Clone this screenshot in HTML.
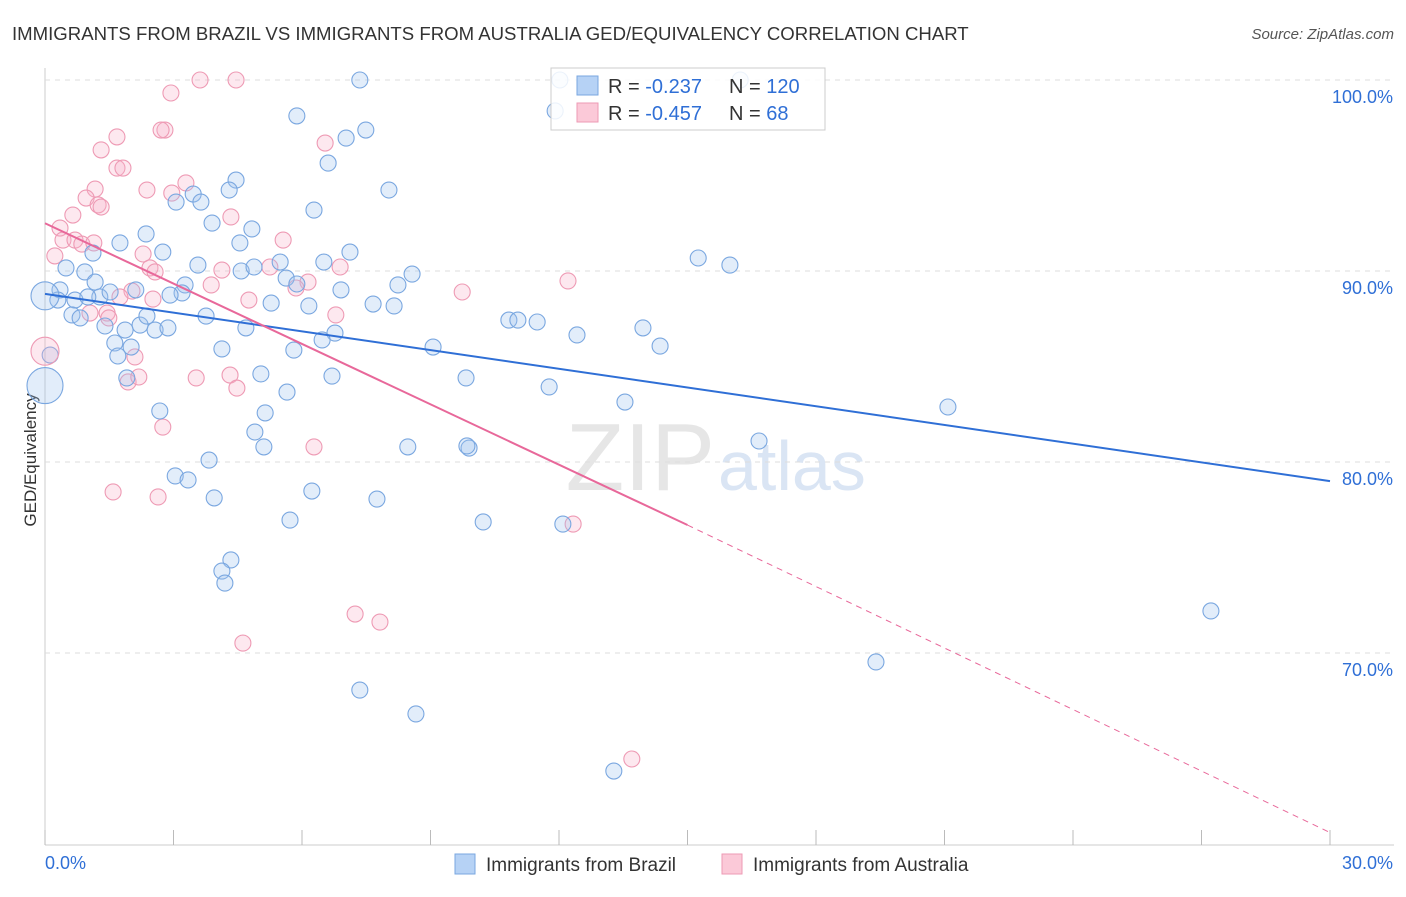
<!DOCTYPE html>
<html><head><meta charset="utf-8">
<style>
body{margin:0;background:#fff;font-family:"Liberation Sans",sans-serif;}
svg text{font-family:"Liberation Sans",sans-serif;}
</style></head>
<body>
<svg id="chart" width="1406" height="892" xmlns="http://www.w3.org/2000/svg">
<text x="12" y="40" font-size="18.6" fill="#333">IMMIGRANTS FROM BRAZIL VS IMMIGRANTS FROM AUSTRALIA GED/EQUIVALENCY CORRELATION CHART</text>
<text x="1394" y="39" font-size="15" fill="#555" font-style="italic" text-anchor="end">Source: ZipAtlas.com</text>
<text x="36" y="460" font-size="17" fill="#333" text-anchor="middle" transform="rotate(-90 36 460)">GED/Equivalency</text>
<text x="715" y="490" font-size="96" fill="#e6e6e6" text-anchor="end" font-family="Liberation Serif">ZIP</text>
<text x="718" y="490" font-size="70" fill="#dae5f4">atlas</text>
<g id="grid"></g><g id="pts"></g><g id="lines"></g>
<g>
<rect x="551" y="68" width="274" height="62" fill="#fff" fill-opacity="0.85" stroke="#ccc"/>
<rect x="577" y="76" width="21" height="19" fill="#b6d2f5" stroke="#7aa7e0"/>
<rect x="577" y="103" width="21" height="19" fill="#fbc9d8" stroke="#ee9ab4"/>
<text x="608" y="93" font-size="20" fill="#333">R = <tspan fill="#2f6fd6">-0.237</tspan></text>
<text x="729" y="93" font-size="20" fill="#333">N = <tspan fill="#2f6fd6">120</tspan></text>
<text x="608" y="120" font-size="20" fill="#333">R = <tspan fill="#2f6fd6">-0.457</tspan></text>
<text x="729" y="120" font-size="20" fill="#333">N = <tspan fill="#2f6fd6">  68</tspan></text>
</g>
<g>
<rect x="455" y="854" width="20" height="20" fill="#b6d2f5" stroke="#7aa7e0"/>
<text x="486" y="871" font-size="19" fill="#333">Immigrants from Brazil</text>
<rect x="722" y="854" width="20" height="20" fill="#fbc9d8" stroke="#ee9ab4"/>
<text x="753" y="871" font-size="19" fill="#333">Immigrants from Australia</text>
</g>
</svg>
<script>
const xTicks=[0,3,6,9,12,15,18,21,24,27,30];
const yTicks=[100,90,80,70];
const brazilPx=[[360,80],[297,116],[346,138],[366,130],[328,163],[389,190],[236,180],[229,190],[193,194],[176,202],[201,202],[314,210],[212,223],[252,229],[146,234],[120,243],[163,252],[240,243],[350,252],[93,253],[85,272],[66,268],[60,290],[58,300],[75,300],[95,282],[100,297],[88,297],[110,292],[136,290],[72,315],[80,318],[105,326],[125,330],[140,325],[155,330],[168,328],[147,316],[185,285],[182,293],[170,295],[198,265],[241,271],[254,267],[280,262],[286,278],[297,284],[271,303],[309,306],[324,262],[341,290],[373,304],[394,306],[398,285],[412,274],[335,333],[322,340],[294,350],[246,328],[206,316],[222,349],[261,374],[287,392],[332,376],[265,413],[255,432],[264,447],[209,460],[175,476],[188,480],[160,411],[127,378],[115,343],[118,356],[131,347],[433,347],[466,378],[509,320],[518,320],[537,322],[577,335],[643,328],[660,346],[549,387],[625,402],[698,258],[730,265],[948,407],[759,441],[408,447],[469,448],[467,446],[312,491],[377,499],[214,498],[290,520],[483,522],[563,524],[231,560],[222,571],[225,583],[1211,611],[876,662],[360,690],[416,714],[614,771],[50,355],[740,80],[555,111],[560,80]];
const ausPx=[[200,80],[236,80],[171,93],[117,137],[101,150],[165,130],[161,130],[325,143],[117,168],[123,168],[147,190],[95,189],[86,198],[73,215],[60,228],[63,240],[75,240],[82,244],[98,205],[101,207],[186,183],[172,193],[231,217],[283,240],[143,254],[55,256],[150,268],[155,272],[211,285],[270,267],[340,267],[308,282],[296,288],[249,300],[153,299],[132,291],[120,297],[90,313],[107,313],[109,318],[336,315],[462,292],[568,281],[135,357],[196,378],[230,375],[237,388],[128,382],[139,377],[163,427],[314,447],[113,492],[158,497],[573,524],[355,614],[380,622],[243,643],[632,759],[222,270],[94,243]];
const brazilX=brazilPx.map(p=>+((p[0]-45)/1285*30).toFixed(2));
const brazilY=brazilPx.map(p=>+(100-(p[1]-80)/19.1).toFixed(2));
const ausX=ausPx.map(p=>+((p[0]-45)/1285*30).toFixed(2));
const ausY=ausPx.map(p=>+(100-(p[1]-80)/19.1).toFixed(2));
const bigX=[0,0,0];const bigY=[88.7,85.8,84.0];const bigR=[14,14,18];const bigS=['b','a','b'];
const brazilTrend=[[0,88.8],[30,79.0]];
const ausTrend=[[0,92.5],[15,76.7],[30,60.6]];
const X=v=>45+v/30*1285, Y=v=>80+(100-v)*19.1;
const NS='http://www.w3.org/2000/svg';
function mk(t,a,parent){const e=document.createElementNS(NS,t);for(const k in a)e.setAttribute(k,a[k]);document.getElementById(parent).appendChild(e);return e;}
mk('line',{x1:45,y1:68,x2:45,y2:845,stroke:'#ccc'},'grid');
mk('line',{x1:45,y1:845,x2:1394,y2:845,stroke:'#ccc'},'grid');
xTicks.forEach(t=>{const l=mk('line',{x1:X(t),y1:845,x2:X(t),y2:830,stroke:'#bbb'},'grid');

});
yTicks.forEach(t=>{const l=mk('line',{x1:45,y1:Y(t),x2:1394,y2:Y(t),stroke:'#ddd','stroke-dasharray':'5,5'},'grid');


const tx=mk('text',{x:1393,y:Y(t)+23,'font-size':18,fill:'#2f6fd6','text-anchor':'end'},'grid');tx.textContent=t.toFixed(1)+'%';

});
let a=mk('text',{x:45,y:869,'font-size':18,fill:'#2f6fd6'},'grid');a.textContent='0.0%';


a=mk('text',{x:1393,y:869,'font-size':18,fill:'#2f6fd6','text-anchor':'end'},'grid');a.textContent='30.0%';


function dot(x,y,r,s){const c=mk('circle',{cx:X(x),cy:Y(y),r:r,fill:s=='b'?'rgba(160,196,240,0.3)':'rgba(248,180,202,0.3)',stroke:s=='b'?'#7aa7e0':'#ee9ab4','stroke-width':1.1},'pts');return c;}
ausX.forEach((x,i)=>{const c=dot(x,ausY[i],8,'a');

});
brazilX.forEach((x,i)=>{const c=dot(x,brazilY[i],8,'b');

});
bigX.forEach((x,i)=>{const c=dot(x,bigY[i],bigR[i],bigS[i]);

});
let l=mk('line',{x1:X(brazilTrend[0][0]),y1:Y(brazilTrend[0][1]),x2:X(brazilTrend[1][0]),y2:Y(brazilTrend[1][1]),stroke:'#2f6fd6','stroke-width':2},'lines');


l=mk('line',{x1:X(ausTrend[0][0]),y1:Y(ausTrend[0][1]),x2:X(ausTrend[1][0]),y2:Y(ausTrend[1][1]),stroke:'#e8689a','stroke-width':2},'lines');


l=mk('line',{x1:X(ausTrend[1][0]),y1:Y(ausTrend[1][1]),x2:X(ausTrend[2][0]),y2:Y(ausTrend[2][1]),stroke:'#e8689a','stroke-width':1,'stroke-dasharray':'6,5'},'lines');


</script>
</body></html>
